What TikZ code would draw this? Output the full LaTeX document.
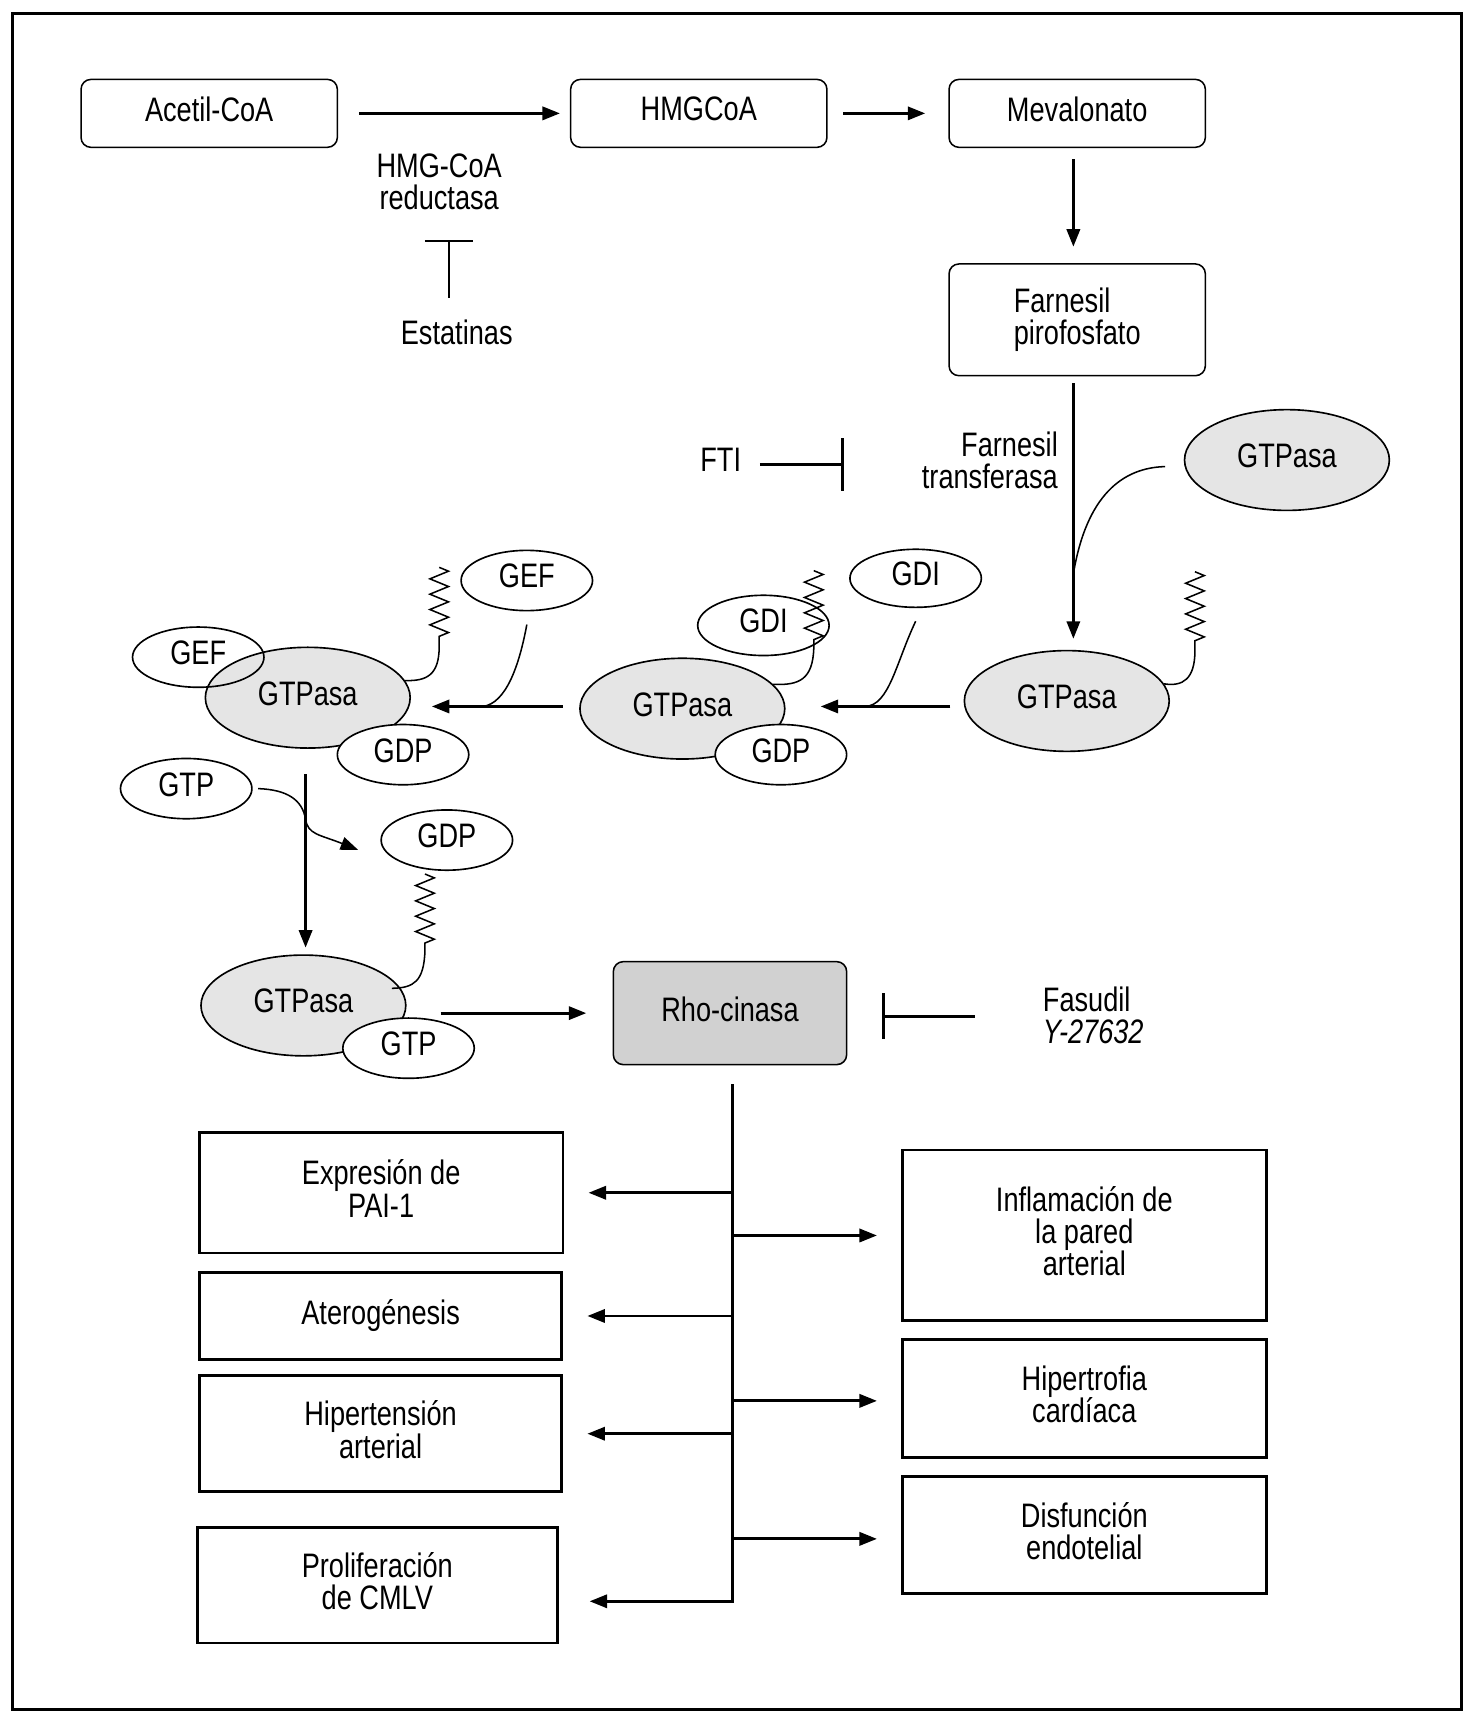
\documentclass[tikz,border=0pt]{standalone}
\usepackage{fontspec}
\setmainfont[FakeStretch=0.8]{Liberation Sans}
\usetikzlibrary{shapes.geometric,arrows.meta,decorations.pathmorphing,calc}
\newcommand\myfs{\fontsize{31}{29.5}\selectfont}
\definecolor{gtpgray}{gray}{0.9}
\definecolor{rhogray}{gray}{0.82}
\begin{document}
\begin{tikzpicture}[x=1pt,y=-1pt,
  every node/.style={font=\myfs, inner sep=2pt},
  rbox/.style={draw, rounded corners=9pt, line width=1.4pt, minimum width=234pt, minimum height=62pt, align=center, text depth=8pt},
  sbox/.style={draw, line width=2.6pt, align=center, text depth=8pt},
  gtpa/.style={ellipse, draw, fill=gtpgray, line width=1.5pt, minimum width=187pt, minimum height=92pt, inner sep=0pt, text depth=8pt},
  smallell/.style={ellipse, draw, fill=white, line width=1.5pt, minimum width=120pt, minimum height=55pt, inner sep=0pt, text depth=8pt},
  arr/.style={-{Triangle[length=16pt,width=12pt]}, line width=2.7pt},
  inh/.style={line width=2.6pt},
  thinc/.style={line width=1.4pt},
  zz/.style={decoration={zigzag,segment length=14pt,amplitude=8.5pt}}
]
\useasboundingbox (0,0) rectangle (1340,1564);
\draw[line width=2.7pt] (11,12) rectangle (1334,1561);

% top row
\node[rbox] (acetil) at (191,103.5) {Acetil-CoA};
\node[rbox] (hmg) at (638,103.5) {HMGCoA};
\node[rbox] (meval) at (983.5,103.5) {Mevalonato};
\node[rbox, minimum height=102pt, align=left, text depth=6.5pt] (farn) at (983.5,292) {Farnesil\\pirofosfato};
\draw[arr, shorten <=19pt, shorten >=9pt] (acetil) -- (hmg);
\draw[arr, shorten <=14pt, shorten >=21pt] (hmg) -- (meval);
\draw[arr, shorten <=10pt, shorten >=15pt] ([xshift=-3.5pt]meval.south) -- ([xshift=-3.5pt]farn.north);

\node[align=center] (hmglbl) at (401,166) {HMG-CoA\\reductasa};
\node (estat) at (417,303) {Estatinas};
\coordinate (estlo) at (410,272);
\coordinate (estb) at (410,220);
\draw[inh] (estlo) -- (estb);
\draw[inh] ([xshift=-22pt]estb) -- ([xshift=22pt]estb);

% farnesil transferase
\node[gtpa] (g4) at (1175,420) {GTPasa};
\node[gtpa] (g3) at (974,640) {GTPasa};
\draw[arr, shorten <=6pt, shorten >=10pt] ([xshift=-3.5pt]farn.south) -- ([xshift=-3.5pt]farn.south |- g3.north);
\node[anchor=east, align=right] (ft) at (968,420) {Farnesil\\transferasa};
\node (fti) at (658,420) {FTI};
\coordinate (ftib) at (769,424);
\draw[inh, shorten <=15pt] (fti.east |- ftib) -- (ftib);
\draw[inh] ([yshift=24pt]ftib) -- ([yshift=-24pt]ftib);
\coordinate (fj) at (980,524);
\draw[thinc] ([xshift=-17pt,yshift=-6pt]g4.west) .. controls (1025,427) and (992,452) .. (fj);
\draw[thinc] (1091,522) decorate[zz]{-- (1091,586)} -- (1091,594) .. controls (1091,620) and (1080,627) .. (g3.10);

% middle
\node[gtpa] (g2) at (623,647) {GTPasa};
\node[smallell] (gdp2) at (713,689) {GDP};
\node[smallell] (gdi1) at (697,571) {GDI};
\node[smallell, minimum height=53pt] (gdi2) at (836,528) {GDI};
\draw[thinc] (743,521) decorate[zz]{-- (743,585)} -- (743,592) .. controls (742,620) and (730,626) .. (g2.15);
\draw[arr, shorten <=12pt, shorten >=32pt] (g3.west |- 0,645) -- (g2.east |- 0,645);
\coordinate (j2) at (790,645);
\draw[thinc] ([yshift=-12pt]gdi2.south) .. controls (818,605) and (812,644) .. (j2);

% left
\node[smallell] (gef2) at (481,530) {GEF};
\node[gtpa] (g1) at (281,637) {GTPasa};
\node[smallell, fill=none] (gef1) at (181,600) {GEF};
\node[smallell] (gdp1) at (368,689) {GDP};
\draw[thinc] (401,518) decorate[zz]{-- (401,582)} -- (401,590) .. controls (401,616) and (390,622) .. (g1.10);
\draw[arr, shorten <=15pt, shorten >=19pt] (g2.west |- 0,645) -- (g1.east |- 0,645);
\coordinate (j1) at (441,645);
\draw[thinc] ([yshift=-12pt]gef2.south) .. controls (474,608) and (462,642) .. (j1);

% GTP exchange
\node[smallell] (gtp1) at (170,720) {GTP};
\node[smallell] (gdp3) at (408,767) {GDP};
\node[gtpa] (g5) at (277,918) {GTPasa};
\node[smallell] (gtp2) at (373,957) {GTP};
\draw[arr, shorten <=23pt, shorten >=6pt] ([xshift=-2pt]g1.south) -- ([xshift=-2pt]g1.south |- g5.north);
\coordinate (gj) at (279,748);
\coordinate (gdparr) at (327,776);
\draw[thinc, -{Triangle[length=16pt,width=12pt]}] ([xshift=5pt]gtp1.east) .. controls (262,721) and (276,730) .. (gj) .. controls (281,762) and (292,762) .. (gdparr);
\draw[thinc] (388,798) decorate[zz]{-- (388,862)} -- (388,868) .. controls (387,896) and (378,902) .. ([xshift=-8pt]g5.10);

% Rho-cinasa
\node[draw, rounded corners=9pt, fill=rhogray, line width=1.4pt, minimum width=213pt, minimum height=94pt, text depth=8pt] (rho) at (666.5,925) {Rho-cinasa};
\draw[arr, shorten <=31pt, shorten >=24pt] (g5.east |- rho.west) -- (rho.west);
\node[anchor=west, align=left] (fas) at (950,927) {Fasudil\\\textit{Y-27632}};
\coordinate (fasb) at (807,928);
\draw[inh, shorten <=60pt] (fas.west |- fasb) -- (fasb);
\draw[inh] ([yshift=21pt]fasb) -- ([yshift=-21pt]fasb);

% effects
\node[sbox, minimum width=332pt, minimum height=110pt] (expr) at (348,1089) {Expresión de\\PAI-1};
\node[sbox, minimum width=331pt, minimum height=79pt] (ater) at (347.5,1201.5) {Aterogénesis};
\node[sbox, minimum width=331pt, minimum height=106pt] (hipt) at (347.5,1309) {Hipertensión\\arterial};
\node[sbox, minimum width=329pt, minimum height=105pt] (prol) at (344.5,1447.5) {Proliferación\\de CMLV};
\node[sbox, minimum width=332pt, minimum height=156pt] (infl) at (990,1128) {Inflamación de\\la pared\\arterial};
\node[sbox, minimum width=332pt, minimum height=108pt] (hipc) at (990,1277) {Hipertrofia\\cardíaca};
\node[sbox, minimum width=332pt, minimum height=107pt] (disf) at (990,1401.5) {Disfunción\\endotelial};

\coordinate (tb) at (669,1462);
\draw[arr, shorten >=28pt] ([xshift=2.5pt]rho.south) ++(0,17) -- (tb) -- (tb -| prol.east);
\draw[arr, shorten >=22pt] (tb |- expr.east) -- (expr.east);
\draw[arr, shorten >=22pt] (tb |- ater.east) -- (ater.east);
\draw[arr, shorten >=22pt] (tb |- hipt.east) -- (hipt.east);
\draw[arr, shorten >=22pt] (tb |- infl.west) -- (infl.west);
\draw[arr, shorten >=22pt] (tb |- 0,1279) -- (hipc.west |- 0,1279);
\draw[arr, shorten >=22pt] (tb |- 0,1405) -- (disf.west |- 0,1405);
\end{tikzpicture}
\end{document}
